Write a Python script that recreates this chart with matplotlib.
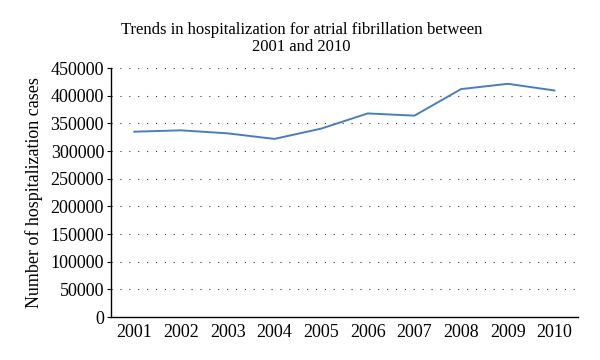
import matplotlib
matplotlib.use("Agg")
import matplotlib.pyplot as plt

years = ["2001", "2002", "2003", "2004", "2005", "2006", "2007", "2008", "2009", "2010"]
cases = [335000, 337500, 332000, 322000, 340500, 368000, 364000, 412000, 421500, 409500]
yticks = list(range(0, 450001, 50000))

plt.rcParams["font.family"] = "Liberation Serif"

fig = plt.figure(figsize=(6, 3.6), dpi=100)
ax = fig.add_axes([0.185, 0.119, 0.778, 0.692])

x = range(len(years))
ax.plot(x, cases, color="#4a7ebb", linewidth=1.4)

ax.set_xlim(-0.5, len(years) - 0.5)
ax.set_ylim(0, 450000)
ax.set_xticks(list(x))
ax.set_xticklabels(years, fontsize=13)
ax.set_yticks(yticks)
ax.set_yticklabels([str(v) for v in yticks], fontsize=13)
ax.tick_params(axis="x", length=0, pad=5)
ax.tick_params(axis="y", length=3, width=0.8, pad=2)

ax.grid(axis="y", linestyle=(0, (1, 7)), color="#333333", linewidth=0.8)
ax.spines["top"].set_visible(False)
ax.spines["right"].set_visible(False)
ax.spines["left"].set_linewidth(1.0)
ax.spines["bottom"].set_linewidth(1.0)

ax.set_ylabel("Number of hospitalization cases", fontsize=13, labelpad=5)
fig.text(0.502, 0.893, "Trends in hospitalization for atrial fibrillation between\n2001 and 2010",
         ha="center", va="center", fontsize=12, linespacing=1.15)

fig.savefig("out.png", dpi=100)
